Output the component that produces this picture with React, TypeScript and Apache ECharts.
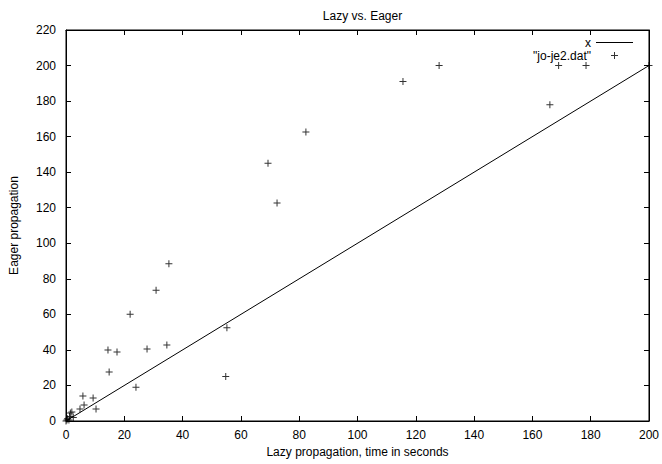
import React, { useEffect, useRef } from "react";
import * as echarts from "echarts";

const titleText = "Lazy vs. Eager";
const xAxisName = "Lazy propagation, time in seconds";
const yAxisName = "Eager propagation";
const lineName = "x";
const scatterName = '"jo-je2.dat"';

// Lazy propagation times (x) and eager propagation times (y)
const lazyTimes = [
  0, 0.3, 0.5, 1, 1.2, 1.5, 2, 2.5,
  4.8, 5.8, 6.2, 9.3, 10.3,
  14.4, 14.8, 17.5, 22, 24, 27.8, 30.9, 34.6, 35.3,
  54.8, 55.2, 69.3, 72.4, 82.3, 115.6, 128, 166, 169, 178.4, 200,
];
const eagerTimes = [
  0, 0.5, 1.2, 0.5, 2.5, 4.5, 5, 2,
  6.8, 14, 9, 12.9, 6.8,
  40, 27.6, 38.8, 60, 19, 40.5, 73.5, 42.8, 88.5,
  25, 52.5, 145, 122.7, 162.6, 191, 200, 178, 200, 200, 200,
];

// y = x reference line endpoints
const lineXs = [0, 200];

const plusPath = "path://M3,0h1v3h3v1h-3v3h-1v-3h-3v-1h3z";
const linePath = "path://M0,0h37v1h-37z";
const FONT = "Liberation Sans, Arial, Helvetica, sans-serif";

export default function App() {
  const ref = useRef<HTMLDivElement>(null);
  useEffect(() => {
    if (!ref.current) return;
    const chart = echarts.init(ref.current, undefined, { renderer: "svg" });
    const axisCommon = {
      axisLine: { show: true, onZero: false, lineStyle: { color: "#000", width: 1 } },
      axisTick: { show: true, inside: true, length: 5, lineStyle: { color: "#000", width: 1 } },
      splitLine: { show: false },
    };
    chart.setOption({
      animation: false,
      backgroundColor: "#fff",
      title: {
        text: titleText,
        left: 357.5,
        textAlign: "center",
        top: 5,
        textStyle: { fontFamily: FONT, fontSize: 12, fontWeight: "normal", color: "#000" },
      },
      legend: {
        orient: "vertical",
        right: 29,
        top: 36,
        padding: 0,
        align: "right",
        itemWidth: 37,
        itemHeight: 7,
        itemGap: 0,
        textStyle: { fontFamily: FONT, fontSize: 12, color: "#000", lineHeight: 13 },
        data: [
          { name: lineName, icon: linePath },
          { name: scatterName, icon: plusPath },
        ],
      },
      grid: { left: 66, right: 13, top: 30, bottom: 43, show: true, borderColor: "#000", borderWidth: 1 },
      xAxis: [
        {
          type: "value",
          min: 0,
          max: 200,
          interval: 20,
          position: "bottom",
          name: xAxisName,
          nameLocation: "middle",
          nameGap: 25,
          nameTextStyle: { fontFamily: FONT, fontSize: 12, color: "#000" },
          axisLabel: { fontFamily: FONT, fontSize: 12, color: "#000", margin: 8 },
          ...axisCommon,
        },
        {
          type: "value",
          min: 0,
          max: 200,
          interval: 20,
          position: "top",
          axisLabel: { show: false },
          ...axisCommon,
        },
      ],
      yAxis: [
        {
          type: "value",
          min: 0,
          max: 220,
          interval: 20,
          position: "left",
          name: yAxisName,
          nameLocation: "middle",
          nameRotate: 90,
          nameGap: 46,
          nameTextStyle: { fontFamily: FONT, fontSize: 12, color: "#000" },
          axisLabel: { fontFamily: FONT, fontSize: 12, color: "#000", margin: 10 },
          ...axisCommon,
        },
        {
          type: "value",
          min: 0,
          max: 220,
          interval: 20,
          position: "right",
          axisLabel: { show: false },
          ...axisCommon,
        },
      ],
      series: [
        {
          name: lineName,
          type: "line",
          data: lineXs.map((v) => [v, v]),
          symbol: "none",
          lineStyle: { color: "#000", width: 1 },
          itemStyle: { color: "#000" },
          silent: true,
        },
        {
          name: scatterName,
          type: "scatter",
          data: lazyTimes.map((x, i) => [x, eagerTimes[i]]),
          symbol: plusPath,
          symbolSize: 7,
          itemStyle: { color: "#000" },
        },
      ],
    });
    return () => chart.dispose();
  }, []);
  return (
    <div
      ref={ref}
      style={{ position: "absolute", left: 0, top: 0, width: 662, height: 464 }}
    />
  );
}
